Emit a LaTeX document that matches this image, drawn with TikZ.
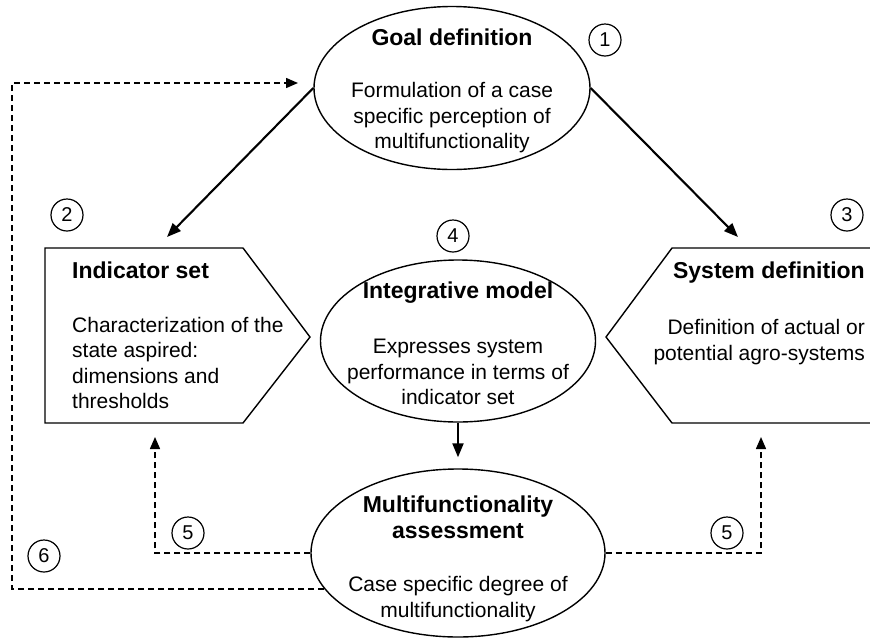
\documentclass[tikz,border=0pt]{standalone}
\usepackage{fontspec}
\setmainfont{Liberation Sans}
\usetikzlibrary{shapes.geometric,arrows.meta}
\begin{document}
\begin{tikzpicture}[x=1pt, y=-1pt,
    box/.style={ellipse, draw, line width=1.4pt, inner sep=0pt},
    num/.style={circle, draw, line width=1.2pt, inner sep=0pt, minimum size=32pt, font=\fontsize{20}{24}\selectfont},
    head/.style={inner sep=0pt, font=\fontsize{23}{26}\selectfont\bfseries},
    body/.style={inner sep=0pt, font=\fontsize{21}{25.5}\selectfont},
    arr/.style={-{Triangle[length=14pt,width=11pt]}, line width=2.1pt},
    back/.style={-{Triangle[length=12pt,width=10pt]}, line width=1.5pt, dash pattern=on 6pt off 4pt}]
\useasboundingbox (0,0) rectangle (870,638);

% ellipses
\node[box, minimum width=276pt, minimum height=163pt] (goal) at (452,88) {};
\node[box, minimum width=275pt, minimum height=162pt] (integ) at (458,341) {};
\node[box, minimum width=294pt, minimum height=168pt] (multi) at (458,553) {};

% side boxes
\draw[line width=1.4pt] (45,248) -- (243,248) -- (310,337) -- (243,423) -- (45,423) -- cycle;
\draw[line width=1.4pt] (871,248) -- (672,248) -- (606,337) -- (672,423) -- (871,423);

% texts
\node[head] (goalhead) at (452,37) {Goal definition};
\node[body, align=center] (goalbody) at (452,118) {Formulation of a case\\specific perception of\\multifunctionality};
\node[head, anchor=west] (indhead) at (72,270) {Indicator set};
\node[body, align=left, anchor=west] (indbody) at (72,363) {Characterization of the\\state aspired:\\dimensions and\\thresholds};
\node[head, anchor=east] (syshead) at (865,273) {System definition};
\node[body, align=right, anchor=east] (sysbody) at (865,342) {Definition of actual or\\potential agro-systems};
\node[head] (integhead) at (458,293) {Integrative model};
\node[body, align=center] (integbody) at (458,372) {Expresses system\\performance in terms of\\indicator set};
\node[head, align=center] (multihead) at (458,517) {Multifunctionality\\assessment};
\node[body, align=center] (multibody) at (458,599) {Case specific degree of\\multifunctionality};

% step numbers
\node[num] (n1) at (605,40) {1};
\node[num] (n2) at (67,215) {2};
\node[num] (n3) at (847,215) {3};
\node[num] (n4) at (453,236) {4};
\node[num] (n5a) at (188,533) {5};
\node[num] (n5b) at (727,533) {5};
\node[num] (n6) at (44,556) {6};

% free ends
\coordinate (indin) at (167,237);
\coordinate (sysin) at (738,237);
\coordinate (indup) at (155,437);
\coordinate (sysup) at (761,437);
\coordinate (corner) at (12,83);
\coordinate (goalin) at (298,83);

\draw[arr] (goal.west) -- (indin);
\draw[arr] (goal.east) -- (sysin);
\draw[arr, shorten >=11pt] (integ) -- (multi);
\draw[back] (multi.west) -| (indup);
\draw[back] (multi.east) -| (sysup);
\draw[back] (multi.195) -| (corner) -- (goalin);
\end{tikzpicture}
\end{document}
